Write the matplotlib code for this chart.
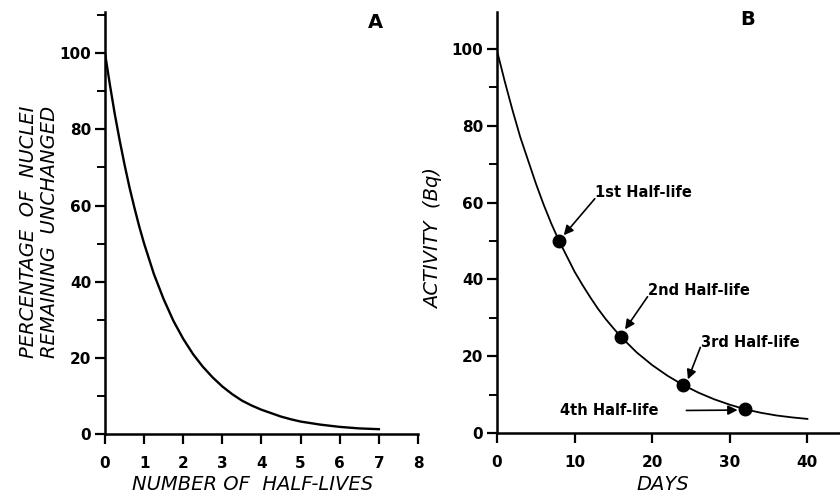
import matplotlib
matplotlib.use("Agg")
import matplotlib.pyplot as plt
from matplotlib.ticker import MultipleLocator

# panel A: fraction of nuclei left vs number of half-lives
half_lives = [0, 0.125, 0.25, 0.375, 0.5, 0.625, 0.75, 0.875, 1.0, 1.25, 1.5,
              1.75, 2.0, 2.25, 2.5, 2.75, 3.0, 3.25, 3.5, 3.75, 4.0, 4.25,
              4.5, 4.75, 5.0, 5.25, 5.5, 5.75, 6.0, 6.25, 6.5, 6.75, 7.0]
pct_remaining = [100, 91.7, 84, 77.1, 70.7, 64.8, 59.5, 54.5, 50, 42, 35.4,
                 29.7, 25, 21, 17.7, 14.9, 12.5, 10.5, 8.8, 7.5, 6.4, 5.5,
                 4.6, 3.9, 3.3, 2.9, 2.5, 2.2, 1.9, 1.7, 1.5, 1.4, 1.3]

# panel B: activity vs days
days = [0, 1, 2, 3, 4, 5, 6, 7, 8, 9, 10, 11, 12, 13, 14, 15, 16, 18, 20,
        22, 24, 26, 28, 30, 32, 34, 36, 38, 40]
activity = [99.5, 91.5, 84, 77, 71, 65, 59.5, 54.5, 50, 46, 42, 38.6, 35.4,
            32.4, 29.7, 27.3, 25, 21, 17.7, 14.9, 12.5, 10.5, 8.8, 7.4, 6.2,
            5.3, 4.6, 4.1, 3.7]

hl_days = [8, 16, 24, 32]
hl_activity = [50, 25, 12.5, 6.2]
hl_labels = ["1st Half-life", "2nd Half-life", "3rd Half-life", "4th Half-life"]
hl_text_xy = [(12.6, 62.5), (19.5, 37.2), (26.3, 23.7), (8.1, 5.8)]
hl_arrow_from = [(12.6, 61), (19.4, 35.5), (26.2, 22.3), (24.4, 5.9)]
hl_arrow_to = [(8.6, 51.5), (16.5, 27), (24.6, 14), (31.0, 6.0)]

plt.rcParams['font.family'] = ['DejaVu Sans']
plt.rcParams['axes.linewidth'] = 1.8

fig = plt.figure(figsize=(8.4, 4.99), dpi=100)
axA = fig.add_axes([0.125, 0.130, 0.3726, 0.846])
axB = fig.add_axes([0.5917, 0.132, 0.4083, 0.844])


def style_axes(ax):
    for side in ("top", "right"):
        ax.spines[side].set_visible(False)
    ax.tick_params(which="major", direction="out", length=7, width=1.6,
                   labelsize=11)
    ax.tick_params(which="minor", direction="out", length=6, width=1.4)
    ax.tick_params(axis="x", pad=9)
    ax.tick_params(axis="y", pad=3)
    for lab in ax.get_xticklabels() + ax.get_yticklabels():
        lab.set_fontweight("bold")
    ax.yaxis.set_major_locator(MultipleLocator(20))
    ax.yaxis.set_minor_locator(MultipleLocator(10))


# ---- panel A
axA.plot(half_lives, pct_remaining, color="black", lw=1.7,
         solid_joinstyle="round")
axA.set_xlim(0, 8)
axA.set_ylim(0, 110.8)
axA.xaxis.set_major_locator(MultipleLocator(1))
style_axes(axA)
axA.set_xlabel("NUMBER OF  HALF-LIVES", fontsize=14, style="italic")
axA.xaxis.set_label_coords(0.47, -0.097)
axA.set_ylabel("PERCENTAGE  OF  NUCLEI\nREMAINING  UNCHANGED", fontsize=14,
               style="italic", linespacing=1.1)
axA.yaxis.set_label_coords(-0.148, 0.48)
axA.text(0.863, 0.976, "A", transform=axA.transAxes, fontsize=14,
         fontweight="bold", ha="center", va="center")

# ---- panel B
axB.plot(days, activity, color="black", lw=1.3, solid_joinstyle="round")
axB.plot(hl_days, hl_activity, "o", color="black", ms=9)
axB.set_xlim(0, 44.2)
axB.set_ylim(0, 109.6)
axB.xaxis.set_major_locator(MultipleLocator(10))
style_axes(axB)
axB.set_xlabel("DAYS", fontsize=14, style="italic")
axB.xaxis.set_label_coords(0.484, -0.1)
axB.set_ylabel("ACTIVITY  (Bq)", fontsize=14, style="italic")
axB.yaxis.set_label_coords(-0.157, 0.463)
axB.text(0.732, 0.983, "B", transform=axB.transAxes, fontsize=14,
         fontweight="bold", ha="center", va="center")

for lab, txy, a0, a1 in zip(hl_labels, hl_text_xy, hl_arrow_from, hl_arrow_to):
    axB.text(txy[0], txy[1], lab, fontsize=10.5, fontweight="bold",
             ha="left", va="center")
    axB.annotate("", xy=a1, xytext=a0,
                 arrowprops=dict(arrowstyle="-|>", color="black", lw=1.2,
                                 mutation_scale=14, shrinkA=0, shrinkB=0))

fig.savefig("out.png", dpi=100)
